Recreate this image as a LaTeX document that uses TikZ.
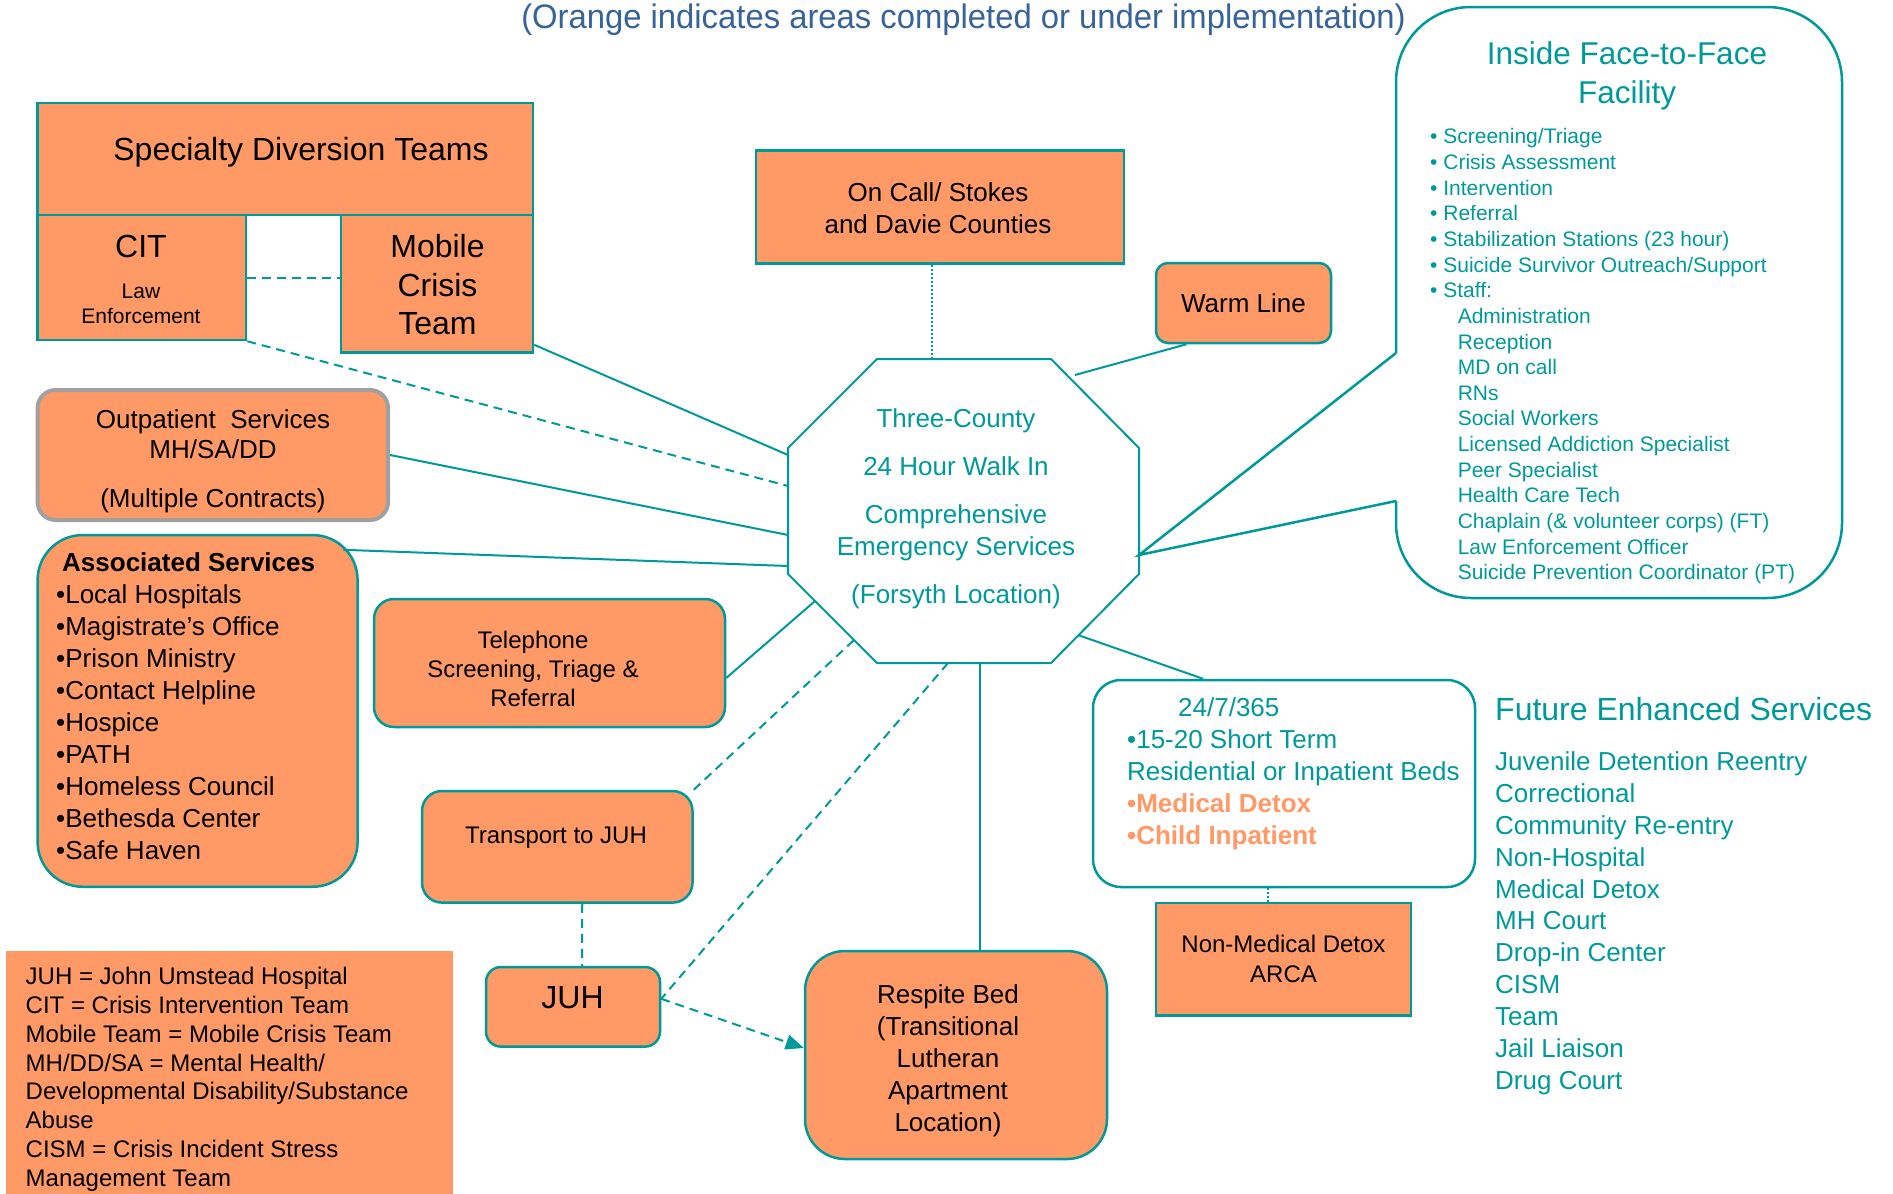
\documentclass[tikz,border=0pt]{standalone}
\usepackage{fontspec}
\setmainfont{Liberation Sans}
\usepackage{graphicx}
\usetikzlibrary{arrows.meta,calc}
\definecolor{teal2}{HTML}{009999}
\definecolor{org}{HTML}{FF9966}
\definecolor{tblue}{HTML}{366399}
\definecolor{gbord}{HTML}{A0A0A0}
\newcommand\fs[2]{\fontsize{#1}{#2}\selectfont}
\begin{document}
\begin{tikzpicture}[x=1pt,y=-1pt,
  obox/.style={draw=teal2, line width=2.5pt, fill=org, inner sep=0pt},
  rbox/.style={obox, rounded corners=#1},
  conn/.style={draw=teal2, line width=2pt},
  dconn/.style={conn, dash pattern=on 9pt off 6pt},
  dotconn/.style={draw=teal2, line width=1.2pt, dash pattern=on 2pt off 2pt},
  txt/.style={inner sep=0pt, text=black},
  ttxt/.style={inner sep=0pt, text=teal2}]
\useasboundingbox (0,0) rectangle (1893,1194);

% title
\node[inner sep=0pt, text=tblue, font=\fs{34}{40}] (title) at (963.5,20) {\scalebox{0.965}[1]{(Orange indicates areas completed or under implementation)}};

% specialty diversion teams
\node[obox, minimum width=495.4pt, minimum height=112pt] (sdt) at (285.3,159) {};
\node[txt, anchor=base, font=\fs{32}{38}] (sdtt) at (301,160.5) {Specialty Diversion Teams};
\node[obox, minimum width=208.4pt, minimum height=125pt] (cit) at (141.8,277.5) {};
\node[txt, anchor=base, font=\fs{32}{38}] (citt) at (141,257.5) {CIT};
\node[txt, anchor=base, align=center, font=\fs{21}{25}] (cit2) at (141,323.5) {Law\\Enforcement};
\node[obox, minimum width=192pt, minimum height=137.5pt] (mob) at (437,283.8) {};
\node[txt, anchor=base, align=center, font=\fs{32}{38.5}] (mobt) at (437.5,334.5) {Mobile\\Crisis\\Team};

% on call
\node[obox, minimum width=368pt, minimum height=113pt] (oncall) at (940,207) {};
\node[txt, anchor=base, align=center, font=\fs{26}{32.5}] (oncallt) at (938,233.9) {On Call/ Stokes\\and Davie Counties};

% warm line
\node[rbox=12pt, minimum width=175pt, minimum height=80pt, font=\fs{26}{30}] (warm) at (1243.5,303) {Warm Line};

% octagon hub
\draw[teal2, line width=2pt] (877,359) -- (1051,359) -- (1139,448) -- (1139,574) -- (1051,663) -- (877,663) -- (788,574) -- (788,448) -- cycle;
\coordinate (hL1) at (788,455);
\coordinate (hL2) at (788,486);
\coordinate (hL3) at (788,535);
\coordinate (hL4) at (788,566);
\coordinate (hLL) at (815,601);
\coordinate (hLL2) at (854,640);
\coordinate (hB1) at (948,663);
\coordinate (hB2) at (979.5,663);
\coordinate (hRL) at (1078,635);
\coordinate (hR) at (1139,555);
\coordinate (hT) at (932,359);
\coordinate (hTR) at (1075,375);
\node[ttxt, anchor=base, align=center, font=\fs{26}{32}] (hub) at (956,603.4) {Three-County\\[16pt]24 Hour Walk In\\[16pt]Comprehensive\\Emergency Services\\[16pt](Forsyth Location)};

% inside face-to-face callout
\draw[teal2, line width=2.5pt, rounded corners=75pt] (1396,353) -- (1396,7) -- (1842,7) -- (1842,598) -- (1396,598) -- (1396,501);
\draw[teal2, line width=2.5pt] (1396,501) -- (hR) -- (1396,353);
\node[ttxt, anchor=base, align=center, font=\fs{31.5}{39}] (ift) at (1627,103) {Inside Face-to-Face\\Facility};
\node[ttxt, anchor=base west, align=left, font=\fs{21}{25.65}] (ifl) at (1430,579.85) {• Screening/Triage\\• Crisis Assessment\\• Intervention\\• Referral\\• Stabilization Stations (23 hour)\\• Suicide Survivor Outreach/Support\\• Staff:\\\hspace*{27.6pt}Administration\\\hspace*{27.6pt}Reception\\\hspace*{27.6pt}MD on call\\\hspace*{27.6pt}RNs\\\hspace*{27.6pt}Social Workers\\\hspace*{27.6pt}Licensed Addiction Specialist\\\hspace*{27.6pt}Peer Specialist\\\hspace*{27.6pt}Health Care Tech\\\hspace*{27.6pt}Chaplain (\& volunteer corps) (FT)\\\hspace*{27.6pt}Law Enforcement Officer\\\hspace*{27.6pt}Suicide Prevention Coordinator (PT)};

% outpatient
\node[obox, draw=gbord, line width=4pt, rounded corners=18pt, minimum width=350.4pt, minimum height=130pt] (outp) at (212.8,455) {};
\node[txt, anchor=base, align=center, font=\fs{26}{30.5}] (outpt) at (213,507.5) {Outpatient\ \ Services\\MH/SA/DD\\[18.5pt](Multiple Contracts)};

% associated services
\node[rbox=45pt, minimum width=320pt, minimum height=351.7pt] (assoc) at (197.6,710.9) {};
\node[txt, anchor=base west, align=left, font=\fs{26}{32}] (assoct) at (56,859.4) {\hspace*{6pt}\textbf{Associated Services}\\•Local Hospitals\\•Magistrate’s Office\\•Prison Ministry\\•Contact Helpline\\•Hospice\\•PATH\\•Homeless Council\\•Bethesda Center\\•Safe Haven};

% telephone
\node[rbox=20pt, minimum width=351pt, minimum height=128pt] (tel) at (549.5,663) {};
\node[txt, anchor=base, align=center, font=\fs{24}{29}] (telt) at (533,706.6) {Telephone\\Screening, Triage \&\\Referral};

% transport
\node[rbox=20pt, minimum width=270.5pt, minimum height=111.6pt] (trans) at (557.25,846.8) {};
\node[txt, anchor=base, font=\fs{24}{29}] (transt) at (556,843.3) {Transport to JUH};

% JUH
\node[rbox=15pt, minimum width=174pt, minimum height=79.6pt] (juh) at (573,1006.8) {};
\node[txt, anchor=base, font=\fs{32}{38}] (juht) at (572.6,1008.5) {JUH};

% legend
\node[fill=org, inner sep=0pt, minimum width=447pt, minimum height=243pt] (leg) at (229.5,1072.5) {};
\node[txt, anchor=base west, align=left, font=\fs{24}{28.9}] (legt) at (25.5,1186.6) {JUH = John Umstead Hospital\\CIT = Crisis Intervention Team\\Mobile Team = Mobile Crisis Team\\MH/DD/SA = Mental Health/\\Developmental Disability/Substance\\Abuse\\CISM = Crisis Incident Stress\\Management Team};

% respite
\node[rbox=40pt, minimum width=302pt, minimum height=208pt] (resp) at (956,1055) {};
\node[txt, anchor=base, align=center, font=\fs{26}{32}] (respt) at (948,1131.4) {Respite Bed\\(Transitional\\Lutheran\\Apartment\\Location)};

% 24/7/365 beds
\node[draw=teal2, line width=2.5pt, fill=white, rounded corners=28pt, minimum width=382pt, minimum height=207pt] (beds) at (1284,783.5) {};
\node[ttxt, anchor=base west, align=left, font=\fs{26}{32}] (bedst) at (1127,844.4) {\hspace*{51pt}24/7/365\\•15-20 Short Term\\Residential or Inpatient Beds\\\textcolor{org}{\textbf{•Medical Detox}}\\\textcolor{org}{\textbf{•Child Inpatient}}};

% ARCA
\node[obox, minimum width=255pt, minimum height=112.5pt, align=center, font=\fs{24}{30}] (arca) at (1283.5,959.25) {Non-Medical Detox\\ARCA};

% future enhanced services
\node[ttxt, anchor=base west, font=\fs{32}{38}] (fut) at (1495,720.5) {Future Enhanced Services};
\node[ttxt, anchor=base west, align=left, font=\fs{26}{31.9}] (futl) at (1495,1089.4) {Juvenile Detention Reentry\\Correctional\\Community Re-entry\\Non-Hospital\\Medical Detox\\MH Court\\Drop-in Center\\CISM\\Team\\Jail Liaison\\Drug Court};

% connectors
\draw[dconn] (cit.east) -- (cit.east -| mob.west);
\draw[dconn] (cit.south east) -- (hL2);
\draw[conn] ([yshift=9pt]mob.south east) -- (hL1);
\draw[conn] (outp.east) -- (hL3);
\draw[conn] ([xshift=-15.5pt,yshift=-16pt]assoc.north east) -- (hL4);
\draw[conn] ([yshift=-15pt]tel.east) -- (hLL);
\draw[dconn] (trans.north east) -- (hLL2);
\draw[dconn] ($(trans.south)+(25,0)$) -- ($(juh.north)+(9,0)$);
\draw[dconn] (hB1) -- ([yshift=8pt]juh.east);
\draw[dconn, -{Triangle[length=18pt,width=15pt]}] ([yshift=8pt]juh.east) -- ([yshift=7pt]resp.west);
\draw[conn] (hB2) -- (hB2 |- resp.north);
\draw[conn] (hRL) -- ($(beds.north)+(-81,0)$);
\draw[conn] ($(warm.south)+(-57,0)$) -- (hTR);
\draw[dotconn] ($(oncall.south)+(-8,0)$) -- (hT);
\draw[dotconn] ($(beds.south)+(-16,0)$) -- ($(arca.north)+(-15.5,0)$);
\end{tikzpicture}
\end{document}
